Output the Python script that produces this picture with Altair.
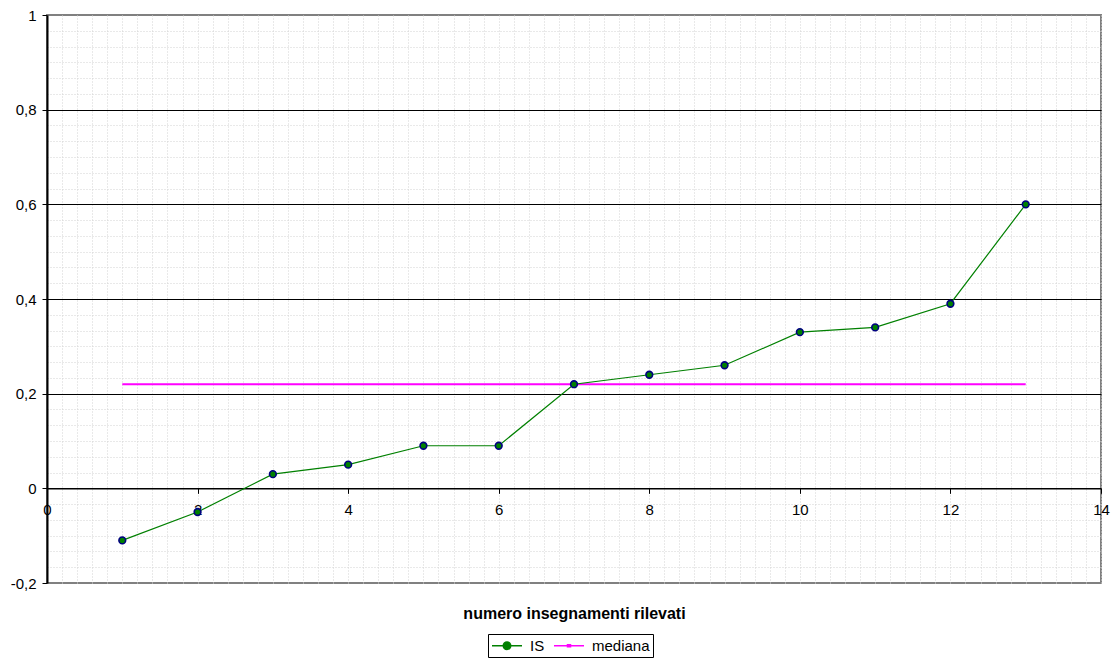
import altair as alt
import pandas as pd
import numpy as np

# ---- data ----
x_vals = [1, 2, 3, 4, 5, 6, 7, 8, 9, 10, 11, 12, 13]
is_vals = [-0.11, -0.05, 0.03, 0.05, 0.09, 0.09, 0.22, 0.24, 0.26, 0.33, 0.34, 0.39, 0.60]
mediana_vals = [0.22, 0.22, 0.22, 0.22, 0.22, 0.22, 0.22, 0.22, 0.22, 0.22, 0.22, 0.22, 0.22]
series_names = ["IS", "mediana"]
x_ticks = [0, 2, 4, 6, 8, 10, 12, 14]
y_ticks = [-0.2, 0, 0.2, 0.4, 0.6, 0.8, 1.0]
x_title = "numero insegnamenti rilevati"

df = pd.DataFrame({
    "x": x_vals + x_vals,
    "y": is_vals + mediana_vals,
    "series": ["IS"] * len(x_vals) + ["mediana"] * len(x_vals),
})

W, H = 1054, 568
FONT = "Liberation Sans"
x_scale = alt.Scale(domain=[0, 14], nice=False, zero=False)
y_scale = alt.Scale(domain=[-0.2, 1.0], nice=False, zero=False)
x_axis_offset = -H * 0.2 / 1.2

# minor (dotted) grid positions
minor_x = [round(v, 3) for v in np.arange(0, 14.0001, 0.2)]
minor_y = [round(-0.2 + k * 0.2 / 6, 4) for k in range(37) if k % 6 != 0]

X_PLAIN = alt.X("x:Q", scale=x_scale, axis=None)
Y_PLAIN = alt.Y("y:Q", scale=y_scale, axis=None)

grid_layer = alt.Chart(df).mark_point(opacity=0).encode(
    x=alt.X("x:Q", scale=x_scale, axis=alt.Axis(
        values=minor_x, grid=True, gridColor="#d2d2d2", gridDash=[1, 2], gridWidth=1,
        labels=False, ticks=False, domain=False, title=None, orient="bottom")),
    y=alt.Y("y:Q", scale=y_scale, axis=alt.Axis(
        values=minor_y, grid=True, gridColor="#d2d2d2", gridDash=[1, 2], gridWidth=1,
        labels=False, ticks=False, domain=False, title=None, orient="left")),
)

axis_layer = alt.Chart(df).mark_point(opacity=0).encode(
    x=alt.X("x:Q", scale=x_scale, axis=alt.Axis(
        values=x_ticks, format="d", grid=False, offset=x_axis_offset, orient="bottom",
        domainColor="black", domainWidth=1.5, tickColor="black", tickSize=5, tickWidth=1,
        labelPadding=9, labelFontSize=15, labelFont=FONT, labelColor="black",
        labelFlush=False,
        title=x_title, titleFontSize=16, titleFont=FONT, titleFontWeight="bold",
        titleColor="black", titleY=125, titleBaseline="middle")),
    y=alt.Y("y:Q", scale=y_scale, axis=alt.Axis(
        values=y_ticks, orient="left", grid=True,
        gridColor={"condition": {"test": "datum.value < -0.1 || datum.value > 0.9 || abs(datum.value) < 0.01",
                                 "value": "transparent"}, "value": "black"},
        gridWidth=1,
        labelExpr="replace(replace(format(datum.value, '.1~f'), '.', ','), '\u2212', '-')",
        domainColor="black", domainWidth=2, tickColor="black", tickSize=5, tickWidth=1,
        labelPadding=6, labelFontSize=15, labelFont=FONT, labelColor="black",
        title=None)),
)

is_line = alt.Chart(df).transform_filter("datum.series == 'IS'").mark_line(
    color="#008000", strokeWidth=1.2
).encode(x=X_PLAIN, y=Y_PLAIN)

med_line = alt.Chart(df).transform_filter("datum.series == 'mediana'").mark_line(
    color="#FF00FF", strokeWidth=2
).encode(x=X_PLAIN, y=Y_PLAIN)

pts = alt.Chart(df).transform_filter("datum.series == 'IS'").mark_point(
    filled=True, fill="#008000", stroke="#000080", strokeWidth=1.6, size=45, opacity=1
).encode(x=X_PLAIN, y=Y_PLAIN)

# legend symbols: a 30px line (units -1..3 at 7.5px per unit) with a marker in the middle
IS_PATH = ("M-1,0H0.5M1.5,0H3M0.5,0A0.5,0.5 0 1,1 1.5,0"
           "A0.5,0.5 0 1,1 0.5,0Z")
MED_PATH = "M-1,0H3M0.8,-0.12H1.2V0.12H0.8Z"

leg = alt.Legend(
    title=None, orient="none", legendX=441, legendY=619,
    direction="horizontal", strokeColor="black", padding=3, fillColor="white",
    symbolSize=225, symbolStrokeWidth=1.5,
    labelFontSize=15, labelFont=FONT, labelColor="black",
    labelOffset=22, columnPadding=6,
)

legend_layer = alt.Chart(df).transform_filter("false").mark_point(
    filled=False, strokeWidth=1.5, opacity=1
).encode(
    x=X_PLAIN, y=Y_PLAIN,
    stroke=alt.Stroke("series:N", scale=alt.Scale(domain=series_names, range=["#008000", "#FF00FF"]), legend=leg),
    fill=alt.Fill("series:N", scale=alt.Scale(domain=series_names, range=["#008000", "#FF00FF"]), legend=leg),
    shape=alt.Shape("series:N", scale=alt.Scale(domain=series_names, range=[IS_PATH, MED_PATH]), legend=leg),
)

chart = alt.layer(grid_layer, axis_layer, med_line, is_line, pts, legend_layer).resolve_axis(
    x="independent", y="independent"
).properties(
    width=W, height=H,
    autosize=alt.AutoSizeParams(type="none"),
    padding={"left": 39, "top": 7, "right": 10, "bottom": 75},
    background="white",
).configure_view(
    stroke="#808080", strokeWidth=2
)

chart.save("out.html", embed_options={"renderer": "svg", "actions": False})
